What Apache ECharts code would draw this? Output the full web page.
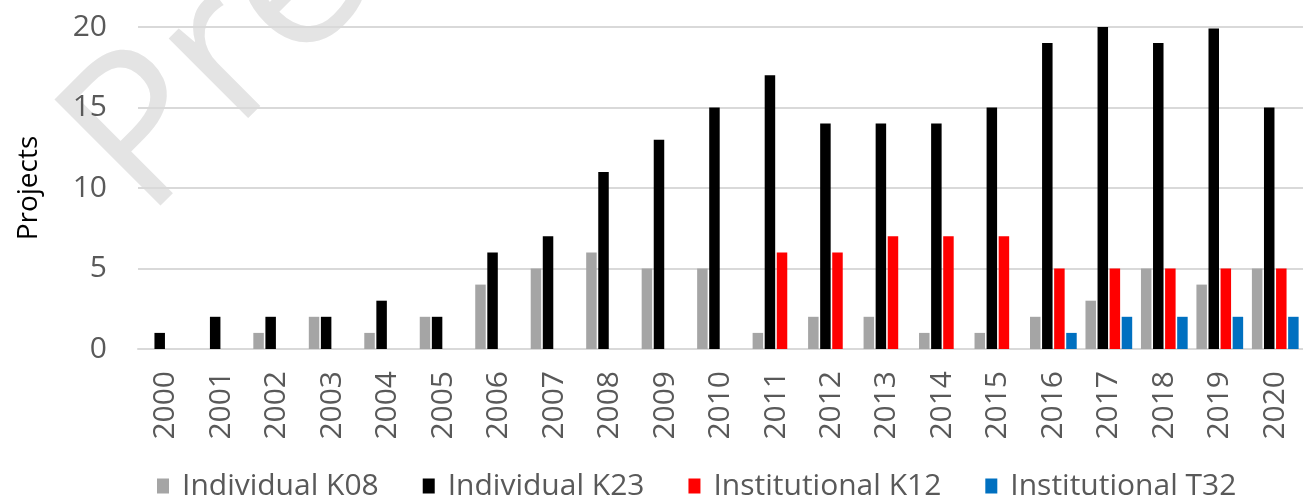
<!DOCTYPE html>
<html>
<head>
<meta charset="utf-8">
<script src="https://cdn.jsdelivr.net/npm/echarts@6/dist/echarts.min.js"></script>
<style>
  html, body { margin: 0; padding: 0; background: #fff; }
  #chart { width: 1303px; height: 501px; }
</style>
</head>
<body>
<div id="chart"></div>
<script>
const years = ["2000", "2001", "2002", "2003", "2004", "2005", "2006", "2007", "2008", "2009", "2010",
  "2011", "2012", "2013", "2014", "2015", "2016", "2017", "2018", "2019", "2020"];
const individualK08 = [0, 0, 1, 2, 1, 2, 4, 5, 6, 5, 5, 1, 2, 2, 1, 1, 2, 3, 5, 4, 5];
const individualK23 = [1, 2, 2, 2, 3, 2, 6, 7, 11, 13, 15, 17, 14, 14, 14, 15, 19, 20.2, 19, 19.9, 15];
const institutionalK12 = [0, 0, 0, 0, 0, 0, 0, 0, 0, 0, 0, 6, 6, 7, 7, 7, 5, 5, 5, 5, 5];
const institutionalT32 = [0, 0, 0, 0, 0, 0, 0, 0, 0, 0, 0, 0, 0, 0, 0, 0, 1, 2, 2, 2, 2];
const yTicks = { min: 0, max: 20, interval: 5 };

const font = "Open Sans";
const textGray = "#595959";

const chart = echarts.init(document.getElementById("chart"));

function barSeries(name, data, color) {
  return {
    name: name,
    type: "bar",
    data: data,
    barWidth: 10.5,
    barGap: "15%",
    itemStyle: { color: color },
  };
}

chart.setOption({
  animation: false,
  textStyle: { fontFamily: font },
  graphic: {
    elements: [
      {
        // watermark
        type: "text",
        z: -100,
        silent: true,
        x: 178,
        y: 252,
        rotation: Math.PI / 4,
        style: {
          text: "Preview",
          fontFamily: font,
          fontSize: 210,
          fill: "#e4e4e4",
          textAlign: "left",
          textVerticalAlign: "bottom",
        },
      },
    ],
  },
  grid: {
    left: 138,
    right: -3,
    top: 27,
    bottom: 152,
    containLabel: false,
  },
  legend: {
    left: 152,
    top: 466,
    itemWidth: 12,
    itemHeight: 15,
    itemGap: 44,
    icon: "rect",
    textStyle: { fontSize: 30, color: textGray, fontFamily: font, padding: [0, 0, 0, 8] },
    data: ["Individual K08", "Individual K23", "Institutional K12", "Institutional T32"],
  },
  xAxis: {
    type: "category",
    data: years,
    axisTick: { show: false },
    axisLine: { lineStyle: { color: "#d9d9d9", width: 2 } },
    axisLabel: {
      rotate: 90,
      margin: 22,
      fontSize: 30,
      color: textGray,
      fontFamily: font,
      interval: 0,
    },
  },
  yAxis: {
    type: "value",
    min: yTicks.min,
    max: yTicks.max,
    interval: yTicks.interval,
    name: "Projects",
    nameLocation: "middle",
    nameRotate: 90,
    nameGap: 95,
    nameTextStyle: { fontSize: 28, color: "#000", fontFamily: font },
    axisLine: { show: false },
    axisTick: { show: false },
    axisLabel: { fontSize: 30, color: textGray, margin: 31, fontFamily: font },
    splitLine: { lineStyle: { color: "#d9d9d9", width: 2 } },
  },
  series: [
    barSeries("Individual K08", individualK08, "#a5a5a5"),
    barSeries("Individual K23", individualK23, "#000000"),
    barSeries("Institutional K12", institutionalK12, "#ff0000"),
    barSeries("Institutional T32", institutionalT32, "#0070c0"),
  ],
});
</script>
</body>
</html>
